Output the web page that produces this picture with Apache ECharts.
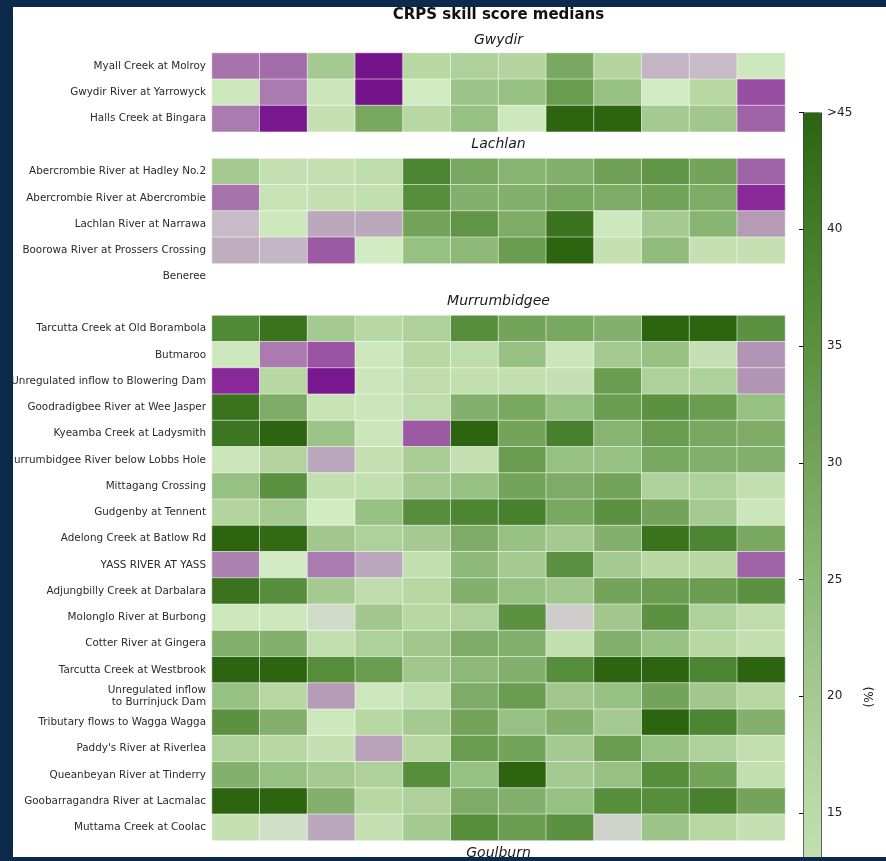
<!DOCTYPE html>
<html>
<head>
<meta charset="utf-8">
<script src="https://cdn.jsdelivr.net/npm/echarts@6/dist/echarts.min.js"></script>
<style>
  html, body { margin: 0; padding: 0; background: #ffffff; }
  #wrap { position: relative; width: 886px; height: 861px; }
  #chart { position: absolute; left: 0; top: 0; width: 886px; height: 861px; background: #ffffff; }
  #frame {
    position: absolute; left: 0; top: 0; width: 886px; height: 861px;
    box-sizing: border-box; pointer-events: none;
    border-left: 13px solid #0b2a4c; border-top: 7px solid #0b2a4c; border-bottom: 4px solid #0b2a4c;
  }
</style>
</head>
<body>
<div id="wrap"><div id="chart"></div><div id="frame"></div></div>
<script>
// Months along the (unlabelled) horizontal axis
const months = ['Jan', 'Feb', 'Mar', 'Apr', 'May', 'Jun', 'Jul', 'Aug', 'Sep', 'Oct', 'Nov', 'Dec'];

// Gwydir catchment
const gwydirSites = ['Myall Creek at Molroy', 'Gwydir River at Yarrowyck', 'Halls Creek at Bingara'];
const gwydirValues = [
  [-12, -13, 20, -28, 16, 18, 17, 29, 17, -3, -2, 9],
  [9, -11, 10, -28, 8, 22, 23, 32, 23, 8, 16, -17],
  [-11, -27, 12, 29, 16, 23, 9, 45, 46, 20, 21, -14]
];

// Lachlan catchment (Beneree has no scores)
const lachlanSites = ['Abercrombie River at Hadley No.2', 'Abercrombie River at Abercrombie',
  'Lachlan River at Narrawa', 'Boorowa River at Prossers Crossing', 'Beneree'];
const lachlanValues = [
  [20, 12, 12, 14, 38, 29, 26, 27, 31, 34, 30, -14],
  [-12, 11, 12, 13, 36, 27, 27, 29, 28, 30, 28, -23],
  [-2, 9, -5, -5, 30, 34, 28, 42, 9, 20, 26, -7],
  [-4, -3, -15, 8, 23, 25, 32, 45, 12, 24, 12, 12],
  [null, null, null, null, null, null, null, null, null, null, null, null]
];

// Murrumbidgee catchment
const murrumbidgeeSites = ['Tarcutta Creek at Old Borambola', 'Butmaroo', 'Unregulated inflow to Blowering Dam',
  'Goodradigbee River at Wee Jasper', 'Kyeamba Creek at Ladysmith', 'Murrumbidgee River below Lobbs Hole',
  'Mittagang Crossing', 'Gudgenby at Tennent', 'Adelong Creek at Batlow Rd', 'YASS RIVER AT YASS',
  'Adjungbilly Creek at Darbalara', 'Molonglo River at Burbong', 'Cotter River at Gingera',
  'Tarcutta Creek at Westbrook', 'Unregulated inflow\nto Burrinjuck Dam', 'Tributary flows to Wagga Wagga',
  "Paddy's River at Riverlea", 'Queanbeyan River at Tinderry', 'Goobarragandra River at Lacmalac',
  'Muttama Creek at Coolac'];
const murrumbidgeeValues = [
  [37, 42, 20, 16, 18, 36, 30, 29, 27, 46, 46, 35],
  [9, -11, -16, 9, 16, 14, 23, 10, 20, 23, 12, -8],
  [-23, 16, -27, 10, 14, 13, 13, 12, 32, 18, 18, -8],
  [42, 28, 11, 10, 14, 27, 29, 23, 32, 35, 32, 23],
  [41, 46, 22, 10, -15, 45, 30, 39, 26, 32, 29, 28],
  [10, 17, -5, 12, 19, 12, 32, 23, 23, 29, 27, 27],
  [23, 35, 13, 13, 20, 23, 30, 28, 30, 18, 18, 13],
  [17, 20, 8, 23, 36, 38, 39, 29, 35, 30, 20, 10],
  [46, 44, 21, 18, 20, 28, 23, 20, 27, 42, 38, 29],
  [-10, 7, -11, -5, 13, 25, 20, 35, 20, 16, 16, -14],
  [42, 36, 20, 14, 16, 27, 23, 21, 30, 32, 32, 35],
  [9, 9, 4, 21, 16, 18, 35, 1, 21, 35, 18, 14],
  [27, 27, 13, 18, 21, 28, 27, 13, 27, 23, 16, 13],
  [46, 47, 36, 32, 21, 25, 27, 36, 47, 47, 38, 47],
  [23, 16, -7, 9, 13, 28, 32, 21, 23, 30, 21, 16],
  [35, 27, 9, 16, 20, 30, 23, 27, 20, 45, 38, 27],
  [18, 16, 12, -6, 16, 32, 30, 20, 32, 23, 18, 13],
  [27, 23, 20, 18, 36, 23, 45, 20, 23, 36, 30, 13],
  [47, 45, 27, 16, 18, 28, 27, 23, 36, 36, 39, 30],
  [12, 5, -5, 12, 20, 36, 32, 35, 2, 22, 16, 12]
];

// Panel headings
const panelTitles = ['Gwydir', 'Lachlan', 'Murrumbidgee', 'Goulburn'];

// Colour scale limits and colour-bar tick step (%)
const scaleMin = -30;
const scaleMax = 45;
const tickStep = 5;

// ---- layout ----
const plotLeft = 212, plotWidth = 573, rowH = 26.25;
const panelTops = [53, 158.5, 315.5];
const titleTops = [33, 137, 294, 846];
const barLeft = 803, barTop = 112.5, barWidth = 18, pxPerUnit = 23.35;
const barHeight = (scaleMax - scaleMin) * pxPerUnit;
const centerX = plotLeft + plotWidth / 2;
const font = 'DejaVu Sans';

const basins = [
  { sites: gwydirSites, values: gwydirValues },
  { sites: lachlanSites, values: lachlanValues },
  { sites: murrumbidgeeSites, values: murrumbidgeeValues }
];

function toCells(values) {
  const out = [];
  values.forEach((row, r) => row.forEach((v, c) => { if (v !== null) out.push([c, r, v]); }));
  return out;
}

const grid = basins.map((b, i) => ({
  left: plotLeft, width: plotWidth, top: panelTops[i], height: b.sites.length * rowH,
  outerBoundsMode: 'none'
}));
// colour-bar axis: runs past the bottom of the canvas, so no bounds fitting
grid.push({ left: barLeft, width: barWidth, top: barTop, height: barHeight, outerBoundsMode: 'none' });

const xAxis = basins.map((b, i) => ({
  type: 'category', gridIndex: i, data: months, show: false
}));
xAxis.push({ type: 'value', gridIndex: 3, show: false, min: 0, max: 1 });

const yAxis = basins.map((b, i) => ({
  type: 'category', gridIndex: i, data: b.sites, inverse: true,
  axisLine: { show: false }, axisTick: { show: false }, splitLine: { show: false },
  axisLabel: { fontSize: 10.4, fontFamily: font, color: '#2a2a2a', margin: 6, lineHeight: 12, align: 'right' }
}));
yAxis.push({
  type: 'value', gridIndex: 3, position: 'right', min: scaleMin, max: scaleMax, interval: tickStep,
  splitLine: { show: false },
  axisLine: { show: true, lineStyle: { color: '#111', width: 1 } },
  axisTick: { show: true, inside: true, length: 4, lineStyle: { color: '#111' } },
  axisLabel: {
    fontSize: 12, fontFamily: font, color: '#222', margin: 6,
    formatter: v => (v === scaleMax ? '>' + v : String(v))
  }
});

const series = basins.map((b, i) => ({
  type: 'heatmap', xAxisIndex: i, yAxisIndex: i, data: toCells(b.values),
  itemStyle: { borderColor: 'rgba(255,255,255,0.55)', borderWidth: 1 },
  emphasis: { disabled: true }
}));

const title = [{
  text: 'CRPS skill score medians', left: centerX, top: 8, textAlign: 'center', padding: 0,
  textStyle: { fontSize: 15, fontWeight: 'bold', fontFamily: font, color: '#111' }
}].concat(panelTitles.map((t, i) => ({
  text: t, left: centerX, top: titleTops[i], textAlign: 'center', padding: 0,
  textStyle: { fontSize: 14, fontStyle: 'italic', fontWeight: 'normal', fontFamily: font, color: '#1a1a1a' }
})));

const option = {
  animation: false,
  backgroundColor: '#ffffff',
  title: title,
  grid: grid,
  xAxis: xAxis,
  yAxis: yAxis,
  visualMap: {
    type: 'continuous', min: scaleMin, max: scaleMax, seriesIndex: [0, 1, 2],
    calculable: false, hoverLink: false, orient: 'vertical',
    left: barLeft, top: barTop, itemWidth: barWidth, itemHeight: barHeight, padding: 0,
    borderColor: '#111', borderWidth: 1,
    inRange: {
      color: ['#6e0a86', '#8a2a9a', '#9c5aa4', '#b498b6', '#cdc8cc', '#d2ecc4',
              '#bcdaa8', '#9ac286', '#74a45a', '#4e8834', '#2c6410']
    }
  },
  graphic: [{
    type: 'text', x: 870, y: 697, rotation: Math.PI / 2,
    style: { text: '(%)', font: '12px "DejaVu Sans"', fill: '#222', textAlign: 'center', textVerticalAlign: 'middle' }
  }],
  series: series
};

const chart = echarts.init(document.getElementById('chart'), null, { renderer: 'canvas' });
chart.setOption(option);
</script>
</body>
</html>
